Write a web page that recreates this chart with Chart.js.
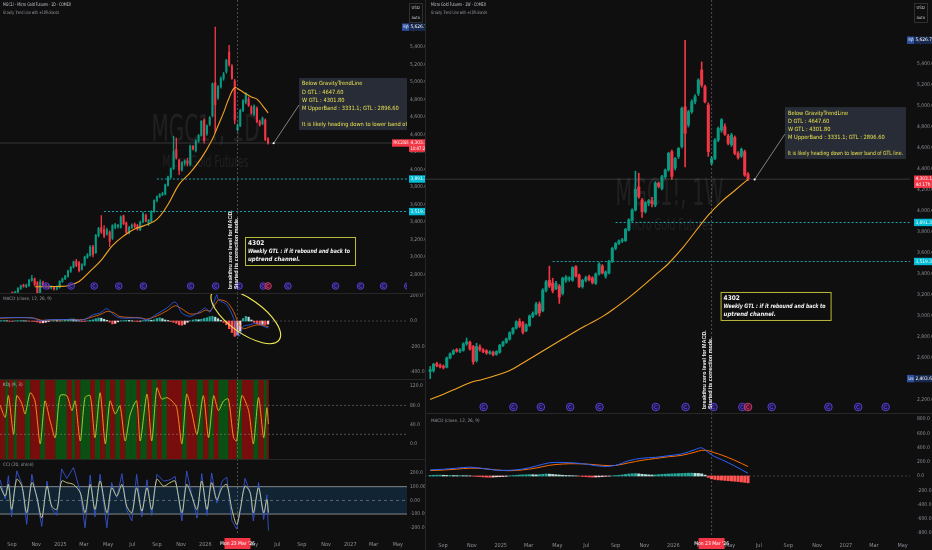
<!DOCTYPE html>
<html>
<head>
<meta charset="utf-8">
<title>MGC1! Gravity Trend Line</title>
<script src="https://cdn.jsdelivr.net/npm/chart.js@4.4.1/dist/chart.umd.min.js"></script>
<style>
  html, body { margin: 0; padding: 0; background: #0f0f0f; }
  #wrap { position: relative; width: 932px; height: 550px; overflow: hidden; background: #0f0f0f; }
  .pane { position: absolute; }
  .pane canvas { display: block; }
  .sep { position: absolute; background: #272727; }
</style>
</head>
<body>
<div id="wrap">
  <div class="pane" style="left:0;top:0;width:425px;height:293px"><canvas id="lPrice"></canvas></div>
  <div class="pane" style="left:0;top:293px;width:425px;height:86px"><canvas id="lMacd"></canvas></div>
  <div class="pane" style="left:0;top:379px;width:425px;height:80px"><canvas id="lKdj"></canvas></div>
  <div class="pane" style="left:0;top:459px;width:425px;height:91px"><canvas id="lCci"></canvas></div>
  <div class="pane" style="left:425px;top:0;width:507px;height:413px"><canvas id="rPrice"></canvas></div>
  <div class="pane" style="left:425px;top:413px;width:507px;height:137px"><canvas id="rMacd"></canvas></div>
  <div class="sep" style="left:0;top:293px;width:425px;height:1px"></div>
  <div class="sep" style="left:0;top:379px;width:425px;height:1px"></div>
  <div class="sep" style="left:0;top:459px;width:425px;height:1px"></div>
  <div class="sep" style="left:425px;top:413px;width:507px;height:1px"></div>
  <div class="sep" style="left:425px;top:0;width:1px;height:550px"></div>
</div>
<script>
// ---------- data ----------
const weekStart = '2024-08-05';   // first weekly bar

const wOpen = [2470,2480,2545,2528,2515,2512,2600,2640,2680,2665,
  2672,2735,2750,2710,2575,2705,2675,2668,2645,2655,
  2635,2655,2720,2750,2780,2838,2885,2950,2935,2860,
  2910,2995,3020,3115,3050,3245,3340,3315,3260,3285,
  3215,3340,3350,3340,3470,3390,3280,3340,3375,3360,
  3310,3400,3475,3380,3410,3520,3645,3692,3715,3718,
  3820,3910,4010,4230,4105,3995,4075,4098,4057,4265,
  4215,4327,4390,4565,4410,4520,4615,4993,4820,4946,
  5041,5120,5343,5184,5010,4455,4500,4676,4770,4803,
  4714,4630,4700,4549,4524,4565,4352];
const wHigh = [2520,2550,2560,2545,2535,2610,2650,2680,2690,2690,
  2745,2790,2760,2720,2740,2725,2690,2680,2670,2665,
  2670,2730,2760,2790,2850,2890,2955,2975,2950,2925,
  3010,3040,3130,3135,3260,3340,3475,3360,3330,3300,
  3370,3385,3375,3470,3480,3400,3350,3380,3390,3375,
  3410,3510,3490,3430,3530,3655,3700,3725,3740,3835,
  3925,4020,4380,4360,4120,4090,4110,4130,4280,4275,
  4340,4400,4560,4580,4510,4605,4990,5626.7,4960,5060,
  5110,5260,5420,5200,5030,4520,4690,4800,4880,4830,
  4730,4740,4715,4565,4600,4580,4365];
const wLow = [2403.6,2465,2515,2505,2495,2505,2590,2630,2655,2650,
  2665,2720,2675,2540,2560,2665,2650,2635,2635,2620,
  2625,2645,2710,2740,2770,2825,2875,2890,2830,2850,
  2900,2985,3010,3000,3040,3230,3270,3220,3250,3120,
  3200,3320,3330,3330,3370,3270,3265,3325,3335,3305,
  3300,3390,3400,3360,3400,3510,3630,3680,3700,3710,
  3810,3900,4000,4120,3940,3980,4050,4040,4040,4220,
  4200,4310,4380,4300,4390,4500,4600,4420,4800,4930,
  5020,5100,5180,5030,4520,4440,4490,4660,4750,4720,
  4630,4615,4535,4495,4510,4330,4290];
const wClose = [2490,2540,2525,2515,2510,2600,2640,2670,2665,2675,
  2735,2755,2685,2565,2710,2680,2662,2648,2658,2632,
  2662,2720,2750,2782,2840,2885,2945,2905,2845,2915,
  3000,3025,3115,3030,3248,3325,3285,3240,3310,3180,
  3360,3370,3362,3460,3380,3280,3340,3365,3345,3320,
  3400,3495,3410,3420,3520,3645,3690,3715,3725,3825,
  3915,4010,4206,4136,3993,4078,4098,4070,4267,4235,
  4327,4390,4550,4330,4500,4595,4978,4740,4946,5041,
  5089,5247,5200,5041,4565,4500,4676,4787,4870,4733,
  4644,4724,4549,4510,4587,4343,4303.1];

// Gravity trend line, weekly chart (bar index -> value)
const gtlWIdx = [0,4,8,12,16,20,24,28,32,36,40,44,48,52,56,60,64,68,72,76,80,84,88,92,96];
const gtlW = [2205,2255,2310,2365,2398,2436,2480,2552,2629,2705,2780,2855,2925,2994,3080,3175,3280,3390,3500,3640,3800,3960,4090,4195,4302];
// Gravity trend line, daily chart
const gtlDIdx = [12,16,20,24,28,32,36,40,44,48,52,56,60,64,68,72,76,78,80,82,84,86,88,90,92,94,96];
const gtlD = [2660,2662,2664,2672,2720,2840,2965,3130,3240,3320,3365,3430,3600,3830,3965,4130,4350,4500,4650,4820,4935,4905,4865,4830,4805,4730,4648];

// horizontal levels (cyan dotted)
const levelPrice = [3891.3, 3519.3];
const levelFrom = ['2025-09-01', '2025-04-21'];

// weekly MACD
const macdWIdx = [0,4,8,12,16,20,24,28,32,36,40,44,48,52,56,60,64,68,72,76,80,82,84,86,88,92,96];
const macdW = [86,95,110,124,105,82,80,98,140,185,190,182,160,135,150,215,250,262,285,310,370,395,330,270,230,140,38];
const signalW = [76,84,96,110,104,85,74,86,112,150,168,172,165,150,148,185,220,245,270,290,335,360,355,325,295,220,133];
const histW = [8,10,12,12,10,8,8,6,5,6,4,3,2,
  -2,-6,-10,-14,-16,-18,-15,-12,-10,-8,-4,
  2,6,10,14,16,18,20,18,16,20,24,28,26,22,18,14,10,8,6,4,2,
  -2,-6,-10,-14,-16,-14,-12,-8,-4,-2,
  2,6,10,16,22,28,32,34,30,24,20,16,14,16,20,24,26,28,30,32,34,36,38,40,40,38,36,
  30,12,-20,-40,-48,-55,-58,-62,-66,-70,-74,-78,-84,-90,-96];

// daily MACD (line vertices by day offset, histogram per week)
const macdDDay = [-3,39,81,98,106,123,165,207,232,249,266,283,299,350,367,392,417,438,455,476,501,514,526,543,547,568,585,598,610,627,644,661,673];
const macdD = [25,28,22,0,5,10,12,10,50,63,97,50,24,24,8,55,102,149,63,37,76,102,70,206,167,128,24,-120,-42,-29,-16,-42,-55];
const signalD = [22,26,24,8,5,8,10,12,35,50,75,65,35,25,15,40,80,120,95,55,65,85,80,150,167,150,76,-20,-60,-45,-30,-35,-45];
const histD = [3,4,2,-2,-3,2,3,4,2,1,-1,-2,-4,-8,
  -15,-14,-10, -4,2,4,3,1,2,6, 12,16,15,8, 2,-3,-4,2,6,10, 18,24,22,14,6,
  -8,-23,-18, -6,2,4,6,5,2,-2,-4,-2,3,6,8,6,10, 20,25,18, 8,4,-4,-10,-18,
  -30,-33,-25, -10,2,8,12,10,14,20,26, 34,37,30, 18,6,-10,-30,-60,-90,
  -120,-110,-80, 20,37,30, 8,-10,-22,-28,-26,-28,-24];

// daily KDJ (vertices)
const kdjDay = [-3,10,18,31,39,52,60,73,85,98,110,123,136,148,165,178,186,199,211,224,
  236,249,262,274,287,299,312,325,341,350,367,379,392,404,417,430,442,455,467,480,
  493,509,522,535,547,560,572,585,593,606,623,635,648,661,669,673];
const kdjK = [80,55,100,20,100,83,62,106,89,0,89,48,13,100,100,69,89,6,96,100,
  13,106,0,89,62,79,6,62,89,6,103,6,116,93,96,89,75,0,103,65,
  20,100,13,100,69,89,93,13,6,100,69,0,96,13,75,41];

// daily CCI (vertices)
const cciDay = [-3,10,18,26,39,52,64,77,89,102,115,127,140,152,165,182,199,211,224,236,
  249,266,278,291,304,316,329,341,354,367,379,392,409,425,438,455,467,480,493,505,
  518,530,543,556,568,581,593,602,614,627,635,648,661,669,673];
const cciSmooth = [104,31,116,-66,153,104,-90,129,31,-127,104,-42,-66,141,129,116,55,-90,116,-66,
  141,-90,92,31,116,-42,-90,92,-78,92,-66,153,104,129,141,-90,116,31,-66,141,
  -66,129,5,92,116,-66,-176,-66,104,55,-90,92,-90,5,-90];
const cciRaw = [150,10,180,-120,215,120,-175,190,20,-190,140,-60,-110,230,160,240,60,-200,185,-120,
  190,-200,130,20,195,-70,-150,190,-120,150,-110,190,140,150,175,-150,215,40,-130,195,
  -110,200,-20,140,170,-150,-210,-80,160,60,-150,130,-140,40,-220];

// contract roll markers
const rollDates = ['2024-11-26','2025-01-28','2025-03-27','2025-05-28','2025-07-29','2025-11-25','2026-01-27',
  '2026-03-27','2026-05-27','2026-07-28','2026-11-25','2027-01-27','2027-03-26','2027-05-26'];

// time axis
const xTickDates = ['2024-09-01','2024-11-01','2025-01-01','2025-03-01','2025-05-01','2025-07-01','2025-09-01',
  '2025-11-01','2026-01-01','2026-03-01','2026-05-01','2026-07-01','2026-09-01','2026-11-01','2027-01-01',
  '2027-03-01','2027-05-01'];
const xTickLabels = ['Sep','Nov','2025','Mar','May','Jul','Sep','Nov','2026','Mar','May','Jul','Sep','Nov','2027','Mar','May'];
const crossDate = '2026-03-23';
const crossLabel = "Mon 23 Mar '26";

// value axes
const lPriceTicks = [2800,3000,3200,3400,3600,3800,4000,4200,4400,4600,4800,5000,5200,5400,5600];
const rPriceTicks = [2200,2400,2600,2800,3000,3200,3400,3600,3800,4000,4200,4400,4600,4800,5000,5200,5400,5600];
const lMacdTicks = [200,0,-200,-400];
const rMacdTicks = [800,600,400,200,0,-200,-400,-600,-800];
const kdjTicks = [120,80,40,0];
const cciTicks = [200,100,0,-100,-200];
const cciTickLabels = ['200.0','100.00','0.00','-100.00','-200.0'];

const noteLines = ['Below GravityTrendLine','D GTL : 4647.60','W GTL : 4301.80',
  'M UpperBand : 3331.1; GTL : 2896.60','','It is likely heading down to lower band of GTL line.'];

// ---------- helpers ----------
const NARROW = '"Liberation Sans Narrow","DejaVu Sans Condensed","Liberation Sans",sans-serif';
Chart.defaults.font.family = NARROW;
Chart.defaults.color = '#8d9099';
const UP = '#089981', DN = '#f23645';

const T0 = Date.parse(weekStart + 'T00:00:00Z');
const dayOf = s => Math.round((Date.parse(s + 'T00:00:00Z') - T0) / 86400000);
const barDay = wOpen.map((_, i) => i * 7);
const xTickDay = xTickDates.map(dayOf);
const crossDay = dayOf(crossDate);
const lastDay = barDay[barDay.length - 1];
const lastClose = wClose[wClose.length - 1];
const hiVal = Math.max(...wHigh), loVal = Math.min(...wLow);
const fmt = v => v.toLocaleString('en-US', { minimumFractionDigits: 1, maximumFractionDigits: 1 });

function makePane(id, o) {
  return new Chart(document.getElementById(id), {
    type: 'bar',
    data: { datasets: o.datasets },
    options: {
      responsive: true, maintainAspectRatio: false, animation: false, events: [],
      layout: { padding: 0 },
      plugins: { legend: { display: false }, tooltip: { enabled: false } },
      scales: {
        x: {
          type: 'linear', min: o.xMin, max: o.xMax, offset: false, display: !!o.showX,
          grid: { display: false, drawTicks: false }, border: { display: false },
          afterBuildTicks: s => { s.ticks = xTickDay.map(v => ({ value: v })); },
          ticks: { autoSkip: false, maxRotation: 0, padding: o.xPad || 5, font: { size: 5.5 }, color: '#8d9099',
                   callback: (v, i) => xTickLabels[i] },
          afterFit: s => { s.height = o.showX ? 15 : 0; s.paddingLeft = 0; s.paddingRight = 0; }
        },
        y: {
          type: 'linear', position: 'right', min: o.yMin, max: o.yMax,
          grid: { display: false, drawTicks: false }, border: { display: false },
          afterBuildTicks: s => { s.ticks = o.yTicks.map(v => ({ value: v })); },
          ticks: { autoSkip: false, padding: o.yPad, font: { size: 5 }, color: '#8d9099',
                   callback: (v, i) => o.yLabels ? o.yLabels[i] : fmt(v) },
          afterFit: s => { s.width = o.axisW; s.paddingTop = 0; s.paddingBottom = 0; }
        }
      }
    },
    plugins: o.plugins
  });
}

function candleSets(bodyW, wickW, idx, gtl) {
  const col = wOpen.map((o, i) => wClose[i] >= o ? UP : DN);
  const sets = [
    { type: 'line', data: idx.map((k, j) => ({ x: k * 7, y: gtl[j] })), borderColor: '#f5a524', borderWidth: 1.1,
      pointRadius: 0, tension: 0.4, order: 0 },
    { type: 'bar', data: barDay.map((d, i) => ({ x: d, y: [wOpen[i], wClose[i]] })), backgroundColor: col,
      barThickness: bodyW, minBarLength: 1, grouped: false, order: 1 },
    { type: 'bar', data: barDay.map((d, i) => ({ x: d, y: [wLow[i], wHigh[i]] })), backgroundColor: col,
      barThickness: wickW, grouped: false, order: 2 }
  ];
  levelPrice.forEach((p, i) => sets.push({
    type: 'line', data: [{ x: dayOf(levelFrom[i]), y: p }, { x: 1100, y: p }], borderColor: '#26c6da',
    borderWidth: 0.8, borderDash: [2, 2], pointRadius: 0, order: 3
  }));
  return sets;
}

function histColors(h) {
  return h.map((v, i) => {
    const p = i ? h[i - 1] : 0;
    if (v >= 0) return v >= p ? '#26a69a' : '#b2dfdb';
    return v <= p ? '#ff5252' : '#ffcdd2';
  });
}

function text(ctx, t, x, y, font, color, maxW) {
  ctx.font = font; ctx.fillStyle = color; ctx.textAlign = 'left'; ctx.textBaseline = 'middle';
  if (maxW) ctx.fillText(t, x, y, maxW); else ctx.fillText(t, x, y);
}

function crosshair(c) {
  const { ctx, chartArea: a } = c, x = c.scales.x.getPixelForValue(crossDay);
  ctx.save();
  ctx.strokeStyle = 'rgba(160,160,160,0.55)'; ctx.lineWidth = 0.8; ctx.setLineDash([2, 2]);
  ctx.beginPath(); ctx.moveTo(x, a.top); ctx.lineTo(x, a.bottom); ctx.stroke();
  ctx.restore();
}

function dateLabel(c) {
  const { ctx, chartArea: a } = c, x = c.scales.x.getPixelForValue(crossDay);
  ctx.save();
  ctx.fillStyle = '#f23645'; ctx.fillRect(x - 13, a.bottom + 3, 26, 11);
  ctx.fillStyle = '#fff'; ctx.font = '5px ' + NARROW; ctx.textAlign = 'center'; ctx.textBaseline = 'middle';
  ctx.fillText(crossLabel, x, a.bottom + 8.5);
  ctx.restore();
}

function hLine(c, v, color, dash) {
  const { ctx, chartArea: a } = c, y = c.scales.y.getPixelForValue(v);
  ctx.save(); ctx.strokeStyle = color; ctx.lineWidth = 0.8; ctx.setLineDash(dash || []);
  ctx.beginPath(); ctx.moveTo(a.left, y); ctx.lineTo(a.right, y); ctx.stroke(); ctx.restore();
}

function tag(ctx, x, y, w, h, bg, lines, fg) {
  ctx.fillStyle = bg; ctx.fillRect(x, y - 3.7, w, h);
  ctx.fillStyle = fg || '#fff'; ctx.font = '4.8px ' + NARROW; ctx.textAlign = 'left'; ctx.textBaseline = 'middle';
  lines.forEach((t, i) => ctx.fillText(t, x + 1.5, y + i * 5.4, w - 2));
}

// price pane decoration, shared by the daily and the weekly chart
function pricePlugin(p) {
  return {
    id: 'price_' + p.tf,
    beforeDatasetsDraw(c) {
      const { ctx, chartArea: a } = c, cx = (a.left + a.right) / 2 + 2;
      ctx.save();
      ctx.fillStyle = 'rgba(255,255,255,0.075)'; ctx.textAlign = 'center'; ctx.textBaseline = 'middle';
      ctx.font = '38px ' + NARROW; ctx.fillText('MGC1!, ' + p.tf, cx, a.top + a.height * p.wm[0], 108);
      ctx.font = '16px ' + NARROW; ctx.fillText('Micro Gold Futures', cx, a.top + a.height * p.wm[1], 86);
      ctx.restore();
    },
    afterDraw(c) {
      const { ctx, chartArea: a } = c;
      const X = d => c.scales.x.getPixelForValue(d), Y = v => c.scales.y.getPixelForValue(v);
      ctx.save();
      ctx.beginPath(); ctx.rect(a.left, a.top, a.right - a.left, a.bottom - a.top); ctx.clip();
      hLine(c, lastClose, 'rgba(130,130,130,0.45)');
      crosshair(c);
      // roll markers
      const my = a.bottom - p.markOff;
      rollDates.map(dayOf).concat([lastDay]).forEach((d, i, arr) => {
        const x = X(d), red = i === arr.length - 1;
        ctx.beginPath(); ctx.arc(x, my, p.markR, 0, Math.PI * 2);
        ctx.fillStyle = red ? 'rgba(120,20,60,0.6)' : 'rgba(45,25,120,0.55)'; ctx.fill();
        ctx.strokeStyle = red ? '#d8436f' : '#5d45dc'; ctx.lineWidth = 0.9; ctx.stroke();
        ctx.beginPath(); ctx.arc(x, my, p.markR * 0.45, 0.6, Math.PI * 1.7); ctx.stroke();
      });
      // callout box
      const bx = X(750), by = Y(p.noteTop);
      ctx.fillStyle = 'rgba(42,46,57,0.93)'; ctx.fillRect(bx, by, p.noteW, 52);
      noteLines.forEach((t, i) => text(ctx, t, bx + 3, by + 6 + i * 8.1, '5.7px ' + NARROW, '#e9e152', p.noteFit ? p.noteW - 6 : 0));
      const tx = X(686), ty = Y(4300);
      ctx.strokeStyle = 'rgba(210,210,210,0.85)'; ctx.lineWidth = 0.7;
      ctx.beginPath(); ctx.moveTo(bx, by + 27); ctx.lineTo(tx, ty); ctx.stroke();
      ctx.fillStyle = '#fff'; ctx.beginPath(); ctx.arc(tx, ty, 1.1, 0, Math.PI * 2); ctx.fill();
      // yellow framed note
      const yx = X(614), yy = Y(3229);
      ctx.fillStyle = 'rgba(14,14,14,0.9)'; ctx.fillRect(yx, yy, 110, 28);
      ctx.strokeStyle = '#bcbc3a'; ctx.lineWidth = 1; ctx.strokeRect(yx + 0.5, yy + 0.5, 110, 28);
      text(ctx, '4302', yx + 3, yy + 6.5, 'bold 6.5px ' + NARROW, '#f4f4f4');
      text(ctx, 'Weekly GTL : if it rebound and back to', yx + 3, yy + 14.5, 'italic bold 6px ' + NARROW, '#f4f4f4', 102);
      text(ctx, 'uptrend channel.', yx + 3, yy + 22, 'italic bold 6px ' + NARROW, '#f4f4f4');
      // vertical comment at the crosshair
      ctx.save();
      ctx.translate(X(crossDay), a.bottom - 4); ctx.rotate(-Math.PI / 2);
      ctx.fillStyle = '#eeeeee'; ctx.font = 'bold 5.4px "Liberation Sans",sans-serif'; ctx.textAlign = 'left'; ctx.textBaseline = 'alphabetic';
      ctx.fillText('breakthru zero level for MACD.', 0, -5.5, 90);
      ctx.fillText('Started its correction mode.', 0, 0.5, 90);
      ctx.restore();
      ctx.restore();

      // titles
      text(ctx, p.title, p.tx, 5, '4.8px ' + NARROW, '#c9ccd4', p.titleW);
      text(ctx, 'Gravity Trend Line with \u00b110% Bands', p.tx, 12.5, '4.6px ' + NARROW, '#979aa3', 56);

      // price scale badges
      const r = a.right;
      ctx.strokeStyle = '#3a3a3a'; ctx.lineWidth = 0.8; ctx.strokeRect(r + p.vx + 0.5, 3.5, 13, 19);
      text(ctx, 'USD', r + p.vx + 2.5, 8, '4.3px ' + NARROW, '#c9ccd4');
      text(ctx, 'auto', r + p.vx + 2.5, 18, '4.3px ' + NARROW, '#c9ccd4');
      tag(ctx, r + p.vx - 7, Y(hiVal), 7, 7.4, '#2c4f9e', ['High']);
      tag(ctx, r + p.vx, Y(hiVal), 19, 7.4, '#17294f', [fmt(hiVal)]);
      levelPrice.forEach(v => tag(ctx, r + p.vx, Y(v), 19, 7.4, '#00bcd4', [fmt(v)]));
      if (p.showLow) {
        tag(ctx, r + p.vx - 7, Y(loVal), 7, 7.4, '#2c4f9e', ['Low']);
        tag(ctx, r + p.vx, Y(loVal), 19, 7.4, '#17294f', [fmt(loVal)]);
      }
      if (p.symTag) tag(ctx, r + p.vx - 17, Y(lastClose), 17, 7.4, DN, ['MGC2026']);
      tag(ctx, r + p.vx, Y(lastClose), 19, 12.6, DN, [fmt(lastClose), p.countdown]);
    }
  };
}

const L = { xMin: -3.2, xMax: 1022, axisW: 18, yPad: 3 };
const R = { xMin: -11, xMax: 1014.5, axisW: 22, yPad: 7 };

// ---------- daily (left) ----------
makePane('lPrice', Object.assign({}, L, {
  datasets: candleSets(1.4, 0.7, gtlDIdx, gtlD), yMin: 2589, yMax: 5937, yTicks: lPriceTicks,
  plugins: [pricePlugin({ tf: '1D', wm: [0.447, 0.557], markOff: 7, markR: 3.3, noteTop: 5046, noteW: 125, noteFit: false,
    title: 'MGC1! \u00b7 Micro Gold Futures \u00b7 1D \u00b7 COMEX', tx: 3, titleW: 68, vx: 2, showLow: false,
    symTag: true, countdown: '10:47:28' })]
}));

makePane('lMacd', Object.assign({}, L, {
  datasets: [
    { type: 'line', data: macdDDay.map((d, i) => ({ x: d, y: macdD[i] })), borderColor: '#2962ff', borderWidth: 0.8, pointRadius: 0, tension: 0.3, order: 0 },
    { type: 'line', data: macdDDay.map((d, i) => ({ x: d, y: signalD[i] })), borderColor: '#ff6d00', borderWidth: 0.8, pointRadius: 0, tension: 0.3, order: 1 },
    { type: 'bar', data: barDay.map((d, i) => ({ x: d, y: histD[i] })), backgroundColor: histColors(histD), barThickness: 1.6, grouped: false, order: 2 }
  ],
  yMin: -455, yMax: 220, yTicks: lMacdTicks,
  plugins: [{
    id: 'lmacd',
    beforeDatasetsDraw(c) { hLine(c, 0, 'rgba(130,130,130,0.55)', [2, 2]); },
    afterDraw(c) {
      const { ctx } = c;
      crosshair(c);
      const ex = c.scales.x.getPixelForValue(616), ey = c.scales.y.getPixelForValue(39);
      ctx.save(); ctx.strokeStyle = '#f2ea55'; ctx.lineWidth = 1.1;
      ctx.beginPath(); ctx.ellipse(ex, ey, 41, 17, 0.62, 0, Math.PI * 2); ctx.stroke(); ctx.restore();
      text(ctx, 'MACD (close, 12, 26, 9)', 3, 6, '4.6px ' + NARROW, '#979aa3');
    }
  }]
}));

makePane('lKdj', Object.assign({}, L, {
  datasets: [
    { type: 'line', data: kdjDay.map((d, i) => ({ x: d, y: kdjK[i] })), borderWidth: 0.9, pointRadius: 0, tension: 0.25,
      borderColor: '#b7d33a', segment: { borderColor: s => s.p1.parsed.y >= s.p0.parsed.y ? '#b7d33a' : '#ff9a1f' } }
  ],
  yMin: -31.3, yMax: 134.5, yTicks: kdjTicks,
  plugins: [{
    id: 'kdj',
    beforeDatasetsDraw(c) {
      const { ctx, chartArea: a } = c, X = d => c.scales.x.getPixelForValue(d);
      ctx.save();
      for (let i = 0; i < kdjDay.length - 1; i++) {
        const x1 = X(kdjDay[i]), x2 = X(kdjDay[i + 1]);
        ctx.fillStyle = kdjK[i + 1] >= kdjK[i] ? '#0b5013' : '#780d0d';
        ctx.fillRect(x1, a.top, x2 - x1 + 0.4, a.bottom - a.top);
      }
      ctx.restore();
      hLine(c, 80, 'rgba(150,150,150,0.6)', [2, 2]);
      hLine(c, 20, 'rgba(150,150,150,0.6)', [2, 2]);
    },
    afterDraw(c) { crosshair(c); text(c.ctx, 'KDJ (9, 3)', 3, 6, '4.6px ' + NARROW, '#b0b3bb'); }
  }]
}));

makePane('lCci', Object.assign({}, L, {
  showX: true, xPad: 6,
  datasets: [
    { type: 'line', data: cciDay.map((d, i) => ({ x: d, y: cciSmooth[i] })), borderColor: '#d6d98a', borderWidth: 0.9, pointRadius: 0, tension: 0.3, order: 0 },
    { type: 'line', data: cciDay.map((d, i) => ({ x: d, y: cciRaw[i] })), borderColor: '#3454d1', borderWidth: 0.9, pointRadius: 0, tension: 0, order: 1 }
  ],
  yMin: -253, yMax: 302, yTicks: cciTicks, yLabels: cciTickLabels,
  plugins: [{
    id: 'cci',
    beforeDatasetsDraw(c) {
      const { ctx, chartArea: a } = c, Y = v => c.scales.y.getPixelForValue(v);
      ctx.save(); ctx.fillStyle = 'rgba(33,150,243,0.16)';
      ctx.fillRect(a.left, Y(100), a.right - a.left, Y(-100) - Y(100)); ctx.restore();
      hLine(c, 100, 'rgba(210,210,210,0.75)');
      hLine(c, -100, 'rgba(210,210,210,0.75)');
      hLine(c, 0, 'rgba(190,190,190,0.55)', [3, 3]);
    },
    afterDraw(c) { crosshair(c); dateLabel(c); text(c.ctx, 'CCI (20, ohlc4)', 3, 6, '4.6px ' + NARROW, '#979aa3'); }
  }]
}));

// ---------- weekly (right) ----------
makePane('rPrice', Object.assign({}, R, {
  datasets: candleSets(2.4, 1, gtlWIdx, gtlW), yMin: 2076, yMax: 6010, yTicks: rPriceTicks,
  plugins: [pricePlugin({ tf: '1W', wm: [0.472, 0.547], markOff: 6, markR: 3.8, noteTop: 4990, noteW: 121, noteFit: true,
    title: 'Micro Gold Futures \u00b7 1W \u00b7 COMEX', tx: 6, titleW: 55, vx: 4, showLow: true,
    symTag: false, countdown: '4d 17h' })]
}));

makePane('rMacd', Object.assign({}, R, {
  showX: true, xPad: 7,
  datasets: [
    { type: 'line', data: macdWIdx.map((k, i) => ({ x: k * 7, y: macdW[i] })), borderColor: '#2962ff', borderWidth: 1, pointRadius: 0, tension: 0.35, order: 0 },
    { type: 'line', data: macdWIdx.map((k, i) => ({ x: k * 7, y: signalW[i] })), borderColor: '#ff6d00', borderWidth: 1, pointRadius: 0, tension: 0.35, order: 1 },
    { type: 'bar', data: barDay.map((d, i) => ({ x: d, y: histW[i] })), backgroundColor: histColors(histW), barThickness: 2.4, grouped: false, order: 2 }
  ],
  yMin: -828, yMax: 884, yTicks: rMacdTicks,
  plugins: [{
    id: 'rmacd',
    beforeDatasetsDraw(c) { hLine(c, 0, 'rgba(130,130,130,0.5)', [2, 2]); },
    afterDraw(c) { crosshair(c); dateLabel(c); text(c.ctx, 'MACD (close, 12, 26, 9)', 6, 8, '4.6px ' + NARROW, '#979aa3'); }
  }]
}));
</script>
</body>
</html>
